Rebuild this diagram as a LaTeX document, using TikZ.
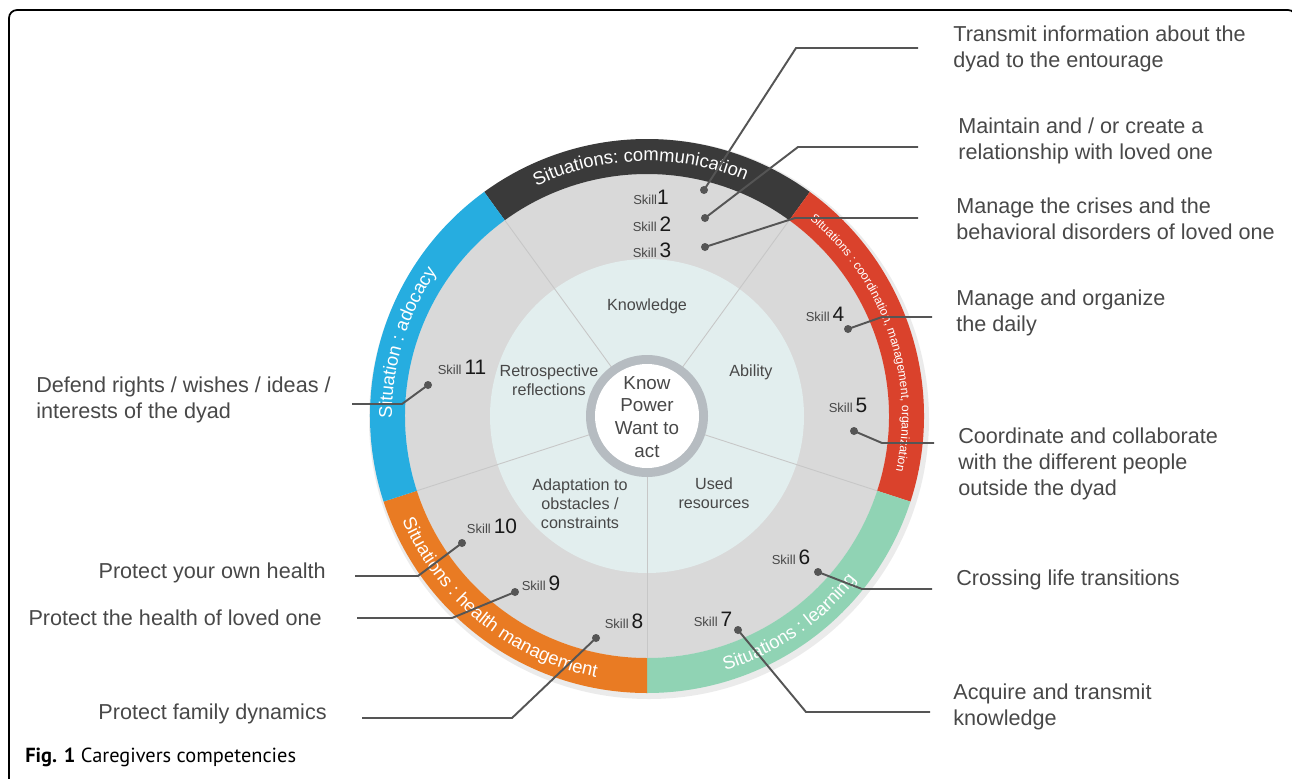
\documentclass[tikz,border=0pt]{standalone}
\usepackage{fontspec}
\setmainfont{Liberation Sans}
\newfontfamily\capfont{PT Sans}
\usetikzlibrary{decorations.text}

\definecolor{ringdark}{RGB}{58,58,58}
\definecolor{ringred}{RGB}{218,66,44}
\definecolor{ringblue}{RGB}{38,173,224}
\definecolor{ringgreen}{RGB}{144,211,180}
\definecolor{ringorange}{RGB}{233,123,35}
\definecolor{discgrey}{RGB}{217,217,217}
\definecolor{disclight}{RGB}{226,238,238}
\definecolor{hubgrey}{RGB}{182,188,193}
\definecolor{txtgrey}{RGB}{72,72,72}
\definecolor{linegrey}{RGB}{85,85,85}

\newcommand{\ringfont}{\fontsize{10.5}{12}\selectfont}
\newcommand{\smallring}{\fontsize{6.9}{8}\selectfont}
\newcommand{\skilltag}[1]{{\fontsize{7.4}{8}\selectfont\color{txtgrey}Skill}\,{\fontsize{11.9}{13}\selectfont #1}}

\tikzset{
  outtext/.style={font=\fontsize{12.3}{14.7}\selectfont, text=txtgrey, inner sep=0pt, align=left},
  intext/.style={font=\fontsize{9.2}{10.8}\selectfont, text=txtgrey, inner sep=0pt, align=center},
  hubtext/.style={font=\fontsize{10.7}{13}\selectfont, text=txtgrey, inner sep=0pt, align=center},
  skilltxt/.style={inner sep=0pt, text=black!90},
  skilldot/.style={circle, fill=linegrey, inner sep=0pt, minimum size=0.16cm},
  leader/.style={draw=linegrey, line width=1.1pt},
  divline/.style={draw=black!22, line width=0.5pt},
  ringtext/.style={decorate, decoration={text along path, text align=center, text color=white, text={#1}}},
}

\begin{document}
\begin{tikzpicture}[x=0.02cm, y=0.02cm]
\useasboundingbox (0,0) rectangle (1292,-778);
\draw[line width=1pt, rounded corners=0.16cm] (9,-10) rectangle (1296,-790);

% wheel
\begin{scope}[shift={(647,-416)}]
  \fill[black!8] (2,-3) circle (280);
  \fill[discgrey] (0,0) circle (242);
  \foreach \a/\b/\c in {54/126/ringdark, -18/54/ringred, -90/-18/ringgreen, 198/270/ringorange, 126/198/ringblue}
    \fill[\c] (\a:242) arc[start angle=\a, end angle=\b, radius=242] -- (\b:277) arc[start angle=\b, end angle=\a, radius=277] -- cycle;
  \fill[disclight] (0,0) circle (157);
  \foreach \a in {54,126,198,270,342}
    \draw[divline] (\a:60) -- (\a:242);
  \fill[hubgrey] (0,0) circle (61);
  \fill[white] (0,0) circle (52);
  % ring titles
  \path[ringtext={|\ringfont|Situations: communication}] (126:255) arc[start angle=126, end angle=57, radius=255];
  \path[ringtext={|\smallring|Situations : coordination, management, organization}] (54:255) arc[start angle=54, end angle=-16, radius=255];
  \path[ringtext={|\ringfont|Situation : adocacy}] (198:255) arc[start angle=198, end angle=128, radius=255];
  \path[ringtext={|\ringfont|Situations : health management}] (200:266) arc[start angle=200, end angle=262, radius=266];
  \path[ringtext={|\ringfont|Situations : learning}] (-90:266) arc[start angle=-90, end angle=-21, radius=266];
\end{scope}

% inner ring
\node[intext] (know) at (647,-306) {Knowledge};
\node[intext] (abil) at (751,-372) {Ability};
\node[intext] (retro) at (549,-380) {Retrospective\\reflections};
\node[intext] (used) at (714,-493) {Used\\resources};
\node[intext] (adapt) at (580,-504) {Adaptation to\\obstacles /\\constraints};
\node[hubtext] (hub) at (647,-417) {Know\\Power\\Want to\\act};

% skills
\node[skilltxt] (s1) at (651,-197) {{\fontsize{7.4}{8}\selectfont\color{txtgrey}Skill}{\fontsize{11.9}{13}\selectfont 1}};
\node[skilltxt] (s2) at (652,-224) {\skilltag{2}};
\node[skilltxt] (s3) at (652,-250) {\skilltag{3}};
\node[skilltxt] (s4) at (825,-314) {\skilltag{4}};
\node[skilltxt] (s5) at (848,-405) {\skilltag{5}};
\node[skilltxt] (s6) at (791,-557) {\skilltag{6}};
\node[skilltxt] (s7) at (713,-619) {\skilltag{7}};
\node[skilltxt] (s8) at (624,-621) {\skilltag{8}};
\node[skilltxt] (s9) at (541,-583) {\skilltag{9}};
\node[skilltxt] (s10) at (492,-526) {\skilltag{10}};
\node[skilltxt] (s11) at (462,-367) {\skilltag{11}};

\node[skilldot] (d1) at (704,-190) {};
\node[skilldot] (d2) at (705,-218) {};
\node[skilldot] (d3) at (705,-247) {};
\node[skilldot] (d4) at (848,-329) {};
\node[skilldot] (d5) at (854,-431) {};
\node[skilldot] (d6) at (818,-572) {};
\node[skilldot] (d7) at (738,-630) {};
\node[skilldot] (d8) at (596,-638) {};
\node[skilldot] (d9) at (515,-592) {};
\node[skilldot] (d10) at (462,-543) {};
\node[skilldot] (d11) at (428,-385) {};

% outside labels
\node[outtext, anchor=west] (l1) at (953,-49) {Transmit information about the\\dyad to the entourage};
\node[outtext, anchor=west] (l2) at (958,-141) {Maintain and / or create a\\relationship with loved one};
\node[outtext, anchor=west] (l3) at (956,-219) {Manage the crises and the\\behavioral disorders of loved one};
\node[outtext, anchor=west] (l4) at (956,-313) {Manage and organize\\the daily};
\node[outtext, anchor=west] (l5) at (958,-464) {Coordinate and collaborate\\with the different people\\outside the dyad};
\node[outtext, anchor=west] (l6) at (956,-580) {Crossing life transitions};
\node[outtext, anchor=west] (l7) at (953,-707) {Acquire and transmit\\knowledge};
\node[outtext, anchor=east] (l8) at (327,-714) {Protect family dynamics};
\node[outtext, anchor=east] (l9) at (322,-618) {Protect the health of loved one};
\node[outtext, anchor=east] (l10) at (326,-573) {Protect your own health};
\node[outtext, anchor=west] (l11) at (36,-400) {Defend rights / wishes / ideas /\\interests of the dyad};

% leaders
\coordinate (k1) at (796,-48);  \coordinate (e1) at (918,-48);
\coordinate (k2) at (798,-147); \coordinate (e2) at (918,-147);
\coordinate (k3) at (795,-218); \coordinate (e3) at (918,-218);
\coordinate (k4) at (882,-317); \coordinate (e4) at (932,-317);
\coordinate (k5) at (882,-443); \coordinate (e5) at (934,-443);
\coordinate (k6) at (862,-589); \coordinate (e6) at (932,-589);
\coordinate (k7) at (806,-712); \coordinate (e7) at (930,-712);
\coordinate (k8) at (512,-718); \coordinate (e8) at (362,-718);
\coordinate (k9) at (452,-618); \coordinate (e9) at (357,-618);
\coordinate (k10) at (418,-576); \coordinate (e10) at (355,-576);
\coordinate (k11) at (402,-404); \coordinate (e11) at (352,-404);
\foreach \i in {1,...,11}
  \draw[leader] (d\i.center) -- (k\i) -- (e\i);

% caption
\node[inner sep=0pt, anchor=west] (cap) at (25,-757) {\capfont\fontsize{11.6}{13}\selectfont\textbf{Fig. 1} Caregivers competencies};
\end{tikzpicture}
\end{document}
